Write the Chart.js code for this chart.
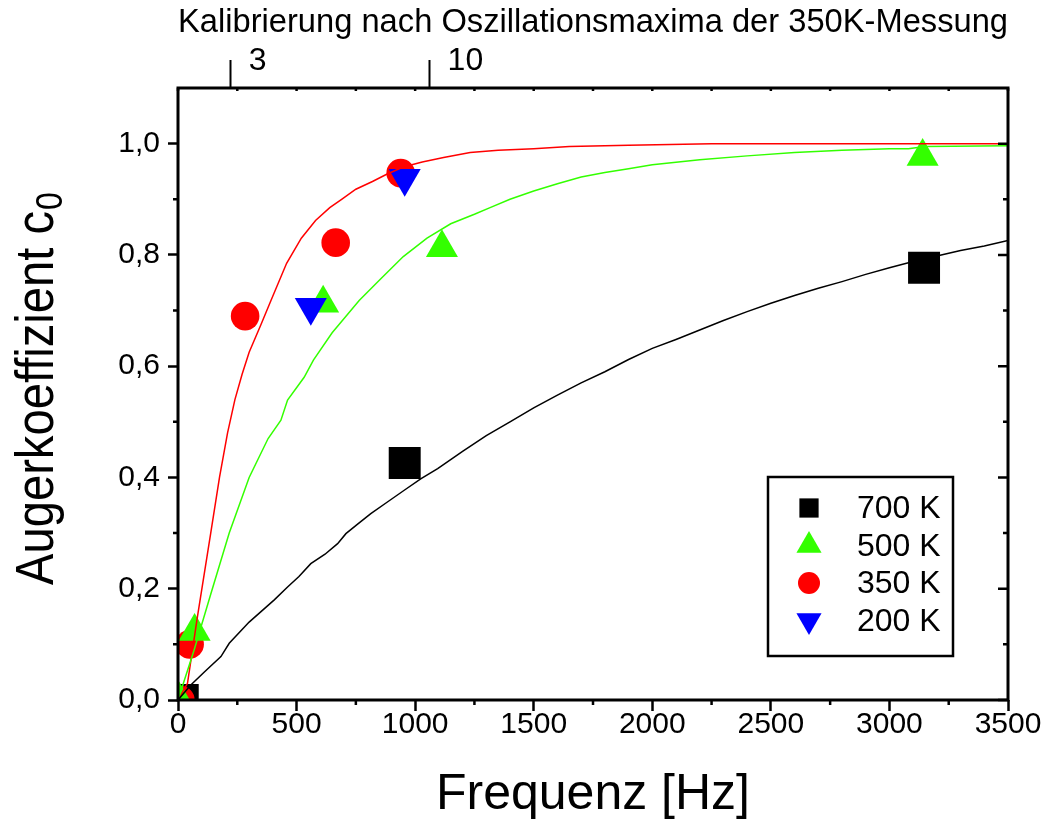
<!doctype html>
<html>
<head>
<meta charset="utf-8">
<title>Augerkoeffizient c0 – Frequenz</title>
<script src="https://cdn.jsdelivr.net/npm/chart.js@4.4.1/dist/chart.umd.min.js"></script>
<style>
  body { margin: 0; background: #fff; }
  #wrap { width: 1048px; height: 823px; }
</style>
</head>
<body>
<div id="wrap"><canvas id="chart" width="1048" height="823"></canvas></div>
<script>
const FONT = '"Liberation Sans", Arial, Helvetica, sans-serif';

// measured Auger coefficients (x: Frequenz in Hz, y: c0)
const freq700 = [20, 956, 3146];
const c700    = [0.0, 0.426, 0.777];
const freq500 = [5, 70, 612, 1113, 3140];
const c500    = [0.0, 0.123, 0.713, 0.813, 0.977];
const freq350 = [10, 49, 283, 665, 939];
const c350    = [0.0, 0.10, 0.690, 0.822, 0.947];
const freq200 = [560, 956];
const c200    = [0.706, 0.938];

// simulated curves
const fitFreq700 = [0, 54, 110, 181, 216, 300, 406, 462, 510, 560, 620, 673, 708, 760, 813, 880, 954, 1025, 1095,
  1200, 1300, 1400, 1500, 1600, 1700, 1800, 1900, 2000, 2100, 2200, 2300, 2400, 2500, 2600, 2700, 2800, 2900,
  3000, 3100, 3200, 3300, 3400, 3500];
const fit700 = [0, 0.027, 0.05, 0.078, 0.102, 0.14, 0.18, 0.203, 0.222, 0.245, 0.262, 0.281, 0.299, 0.317, 0.335,
  0.355, 0.377, 0.398, 0.416, 0.447, 0.475, 0.50, 0.525, 0.548, 0.57, 0.59, 0.612, 0.632, 0.648, 0.665, 0.682,
  0.698, 0.713, 0.727, 0.74, 0.752, 0.765, 0.777, 0.788, 0.798, 0.808, 0.816, 0.826];
const fitFreq500 = [0, 68, 138, 216, 300, 380, 434, 462, 532, 571, 650, 764, 850, 950, 1050, 1150, 1250, 1316,
  1400, 1500, 1600, 1700, 1800, 1900, 2000, 2200, 2400, 2600, 2800, 3000, 3080, 3150, 3500];
const fit500 = [0, 0.09, 0.19, 0.30, 0.40, 0.47, 0.503, 0.539, 0.58, 0.611, 0.66, 0.718, 0.755, 0.797, 0.83,
  0.856, 0.873, 0.885, 0.90, 0.915, 0.928, 0.94, 0.948, 0.955, 0.962, 0.971, 0.978, 0.984, 0.988, 0.991, 0.991,
  0.995, 0.996];
const fitFreq350 = [0, 40, 82, 138, 175, 209, 240, 270, 300, 350, 392, 458, 520, 580, 640, 690, 750, 820, 880, 950,
  1030, 1120, 1232, 1350, 1500, 1650, 1900, 2250, 3500];
const fit350 = [0, 0.03, 0.15, 0.30, 0.40, 0.48, 0.54, 0.585, 0.625, 0.675, 0.718, 0.785, 0.83, 0.862, 0.885, 0.90,
  0.918, 0.932, 0.945, 0.958, 0.967, 0.975, 0.984, 0.988, 0.991, 0.995, 0.997, 1.0, 1.0];

// upper axis: calibration from the oscillation maxima
const calibFreq = [222, 1061];
const calibLabels = ['3', '10'];

const xMin = 0, xMax = 3500, xStep = 500;
const yMin = 0, yMax = 1.1, yStep = 0.2;

const pts = (xs, ys) => xs.map((x, i) => ({ x, y: ys[i] }));

function markerSet(label, xs, ys, style, radius, color, order, rotation) {
  return {
    label, data: pts(xs, ys), order, clip: 0,
    pointStyle: style, pointRadius: radius, pointHoverRadius: radius,
    pointRotation: rotation || 0,
    pointBackgroundColor: color, pointBorderWidth: 0, backgroundColor: color,
    legendRadius: style === 'rect' ? 13.6 : style === 'circle' ? 11 : 14.5
  };
}
function curveSet(xs, ys, color) {
  return {
    label: '', data: pts(xs, ys), order: 0, showLine: true,
    borderColor: color, borderWidth: 1.5, pointRadius: 0, pointHoverRadius: 0, tension: 0
  };
}

const datasets = [
  markerSet('700 K', freq700, c700, 'rect', 22.6, '#000000', 4),
  markerSet('500 K', freq500, c500, 'triangle', 18.5, '#33ff00', 2),
  markerSet('350 K', freq350, c350, 'circle', 14.3, '#ff0000', 3),
  markerSet('200 K', freq200, c200, 'triangle', 18.5, '#0000ff', 1, 180),
  curveSet(fitFreq700, fit700, '#000000'),
  curveSet(fitFreq500, fit500, '#33ff00'),
  curveSet(fitFreq350, fit350, '#ff0000')
];

// frame, minor ticks, mirrored ticks on the right and top
const framePlugin = {
  id: 'frame',
  afterDatasetsDraw(chart) {
    const { ctx, chartArea: a } = chart;
    const xs = chart.scales.x, ys = chart.scales.y;
    ctx.save();
    ctx.strokeStyle = '#000';
    ctx.lineWidth = 2.5;
    ctx.beginPath();
    for (let v = xMin + xStep / 2; v < xMax; v += xStep) {
      const px = xs.getPixelForValue(v);
      ctx.moveTo(px, a.bottom); ctx.lineTo(px, a.bottom + 5);
    }
    for (let v = xMin; v <= xMax + 1e-6; v += xStep / 2) {
      const px = xs.getPixelForValue(v);
      ctx.moveTo(px, a.top); ctx.lineTo(px, a.top + 3);
    }
    for (let v = yMin + yStep / 2; v < 1.0; v += yStep) {
      const py = ys.getPixelForValue(v);
      ctx.moveTo(a.left - 5, py); ctx.lineTo(a.left, py);
      ctx.moveTo(a.right, py); ctx.lineTo(a.right - 5, py);
    }
    for (let v = yMin; v <= 1.0 + 1e-6; v += yStep) {
      const py = ys.getPixelForValue(v);
      ctx.moveTo(a.right, py); ctx.lineTo(a.right - 10, py);
    }
    ctx.stroke();
    ctx.lineWidth = 3;
    ctx.strokeRect(a.left, a.top, a.right - a.left, a.bottom - a.top);
    ctx.restore();
  }
};

// legend box inside the plot area
const legendPlugin = {
  id: 'boxLegend',
  afterDraw(chart) {
    const { ctx } = chart;
    const box = { left: 768, top: 477, width: 185, height: 179 };
    ctx.save();
    ctx.strokeStyle = '#000';
    ctx.lineWidth = 2.5;
    ctx.strokeRect(box.left, box.top, box.width, box.height);
    ctx.font = `32px ${FONT}`;
    ctx.textBaseline = 'alphabetic';
    ctx.textAlign = 'left';
    chart.data.datasets.slice(0, 4).forEach((ds, i) => {
      const base = 518 + i * 37.5;
      ctx.fillStyle = ds.pointBackgroundColor;
      Chart.helpers.drawPoint(ctx, {
        pointStyle: ds.pointStyle, radius: ds.legendRadius, rotation: ds.pointRotation, borderWidth: 0
      }, 809, base - 10);
      ctx.fillStyle = '#000';
      ctx.fillText(ds.label, 857, base);
    });
    ctx.restore();
  }
};

// y axis title with subscript
const yTitlePlugin = {
  id: 'yTitle',
  afterDraw(chart) {
    const { ctx } = chart;
    ctx.save();
    ctx.translate(53, 585);
    ctx.rotate(-Math.PI / 2);
    ctx.scale(0.89, 1);
    ctx.fillStyle = '#000';
    ctx.textBaseline = 'alphabetic';
    ctx.textAlign = 'left';
    ctx.font = `53px ${FONT}`;
    const main = 'Augerkoeffizient c';
    ctx.fillText(main, 0, 0);
    const w = ctx.measureText(main).width;
    ctx.font = `36px ${FONT}`;
    ctx.fillText('0', w + 1, 9);
    ctx.restore();
  }
};

const tickFont = { family: FONT, size: 30 };

new Chart(document.getElementById('chart'), {
  type: 'scatter',
  data: { datasets },
  plugins: [framePlugin, legendPlugin, yTitlePlugin],
  options: {
    responsive: false,
    animation: false,
    layout: { padding: { left: 0, right: 40, top: 0, bottom: 0 } },
    plugins: { legend: { display: false }, tooltip: { enabled: false } },
    scales: {
      x: {
        type: 'linear', position: 'bottom', min: xMin, max: xMax,
        afterFit: s => { s.height = 123; },
        border: { display: false },
        grid: { drawOnChartArea: false, drawTicks: true, tickLength: 11, tickWidth: 2.5, tickColor: '#000' },
        ticks: { stepSize: xStep, font: tickFont, color: '#000', padding: -4, maxRotation: 0, autoSkip: false,
                 callback: v => String(v) },
        title: { display: true, text: 'Frequenz [Hz]', color: '#000',
                 font: { family: FONT, size: 50 }, padding: { top: 0, bottom: -2 } }
      },
      x2: {
        type: 'linear', position: 'top', min: xMin, max: xMax,
        afterFit: s => { s.height = 88; },
        afterBuildTicks: s => { s.ticks = calibFreq.map(v => ({ value: v })); },
        border: { display: false },
        grid: { drawOnChartArea: false, drawTicks: true, tickLength: 28, tickWidth: 2, tickColor: '#000' },
        ticks: { font: { family: FONT, size: 32 }, color: '#000', padding: -20, align: 'start', labelOffset: 18,
                 maxRotation: 0, autoSkip: false, callback: (v, i) => calibLabels[i] },
        title: { display: true, text: 'Kalibrierung nach Oszillationsmaxima der 350K-Messung', color: '#000',
                 font: { family: FONT, size: 33 }, padding: { top: 3, bottom: 0 } }
      },
      y: {
        type: 'linear', position: 'left', min: yMin, max: yMax,
        afterFit: s => { s.width = 178; },
        border: { display: false },
        grid: { drawOnChartArea: false, drawTicks: true, tickLength: 10, tickWidth: 2.5, tickColor: '#000' },
        ticks: { stepSize: yStep, includeBounds: false, font: tickFont, color: '#000', padding: 8,
                 callback: v => v.toFixed(1).replace('.', ',') }
      }
    }
  }
});
</script>
</body>
</html>
